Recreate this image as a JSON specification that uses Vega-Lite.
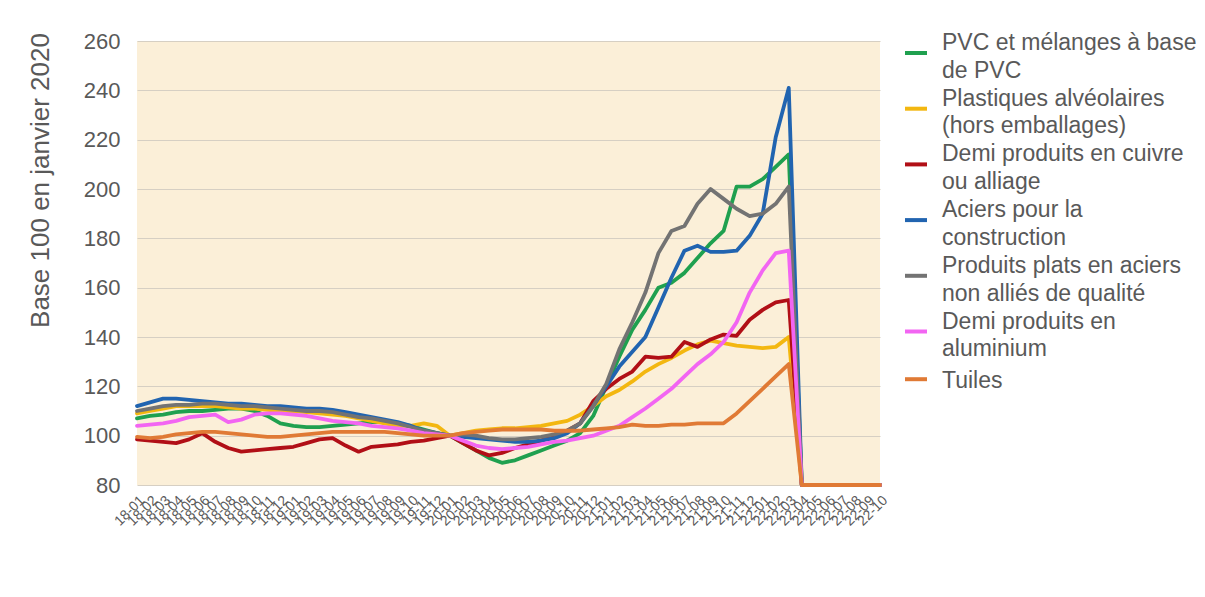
{
  "$schema": "https://vega.github.io/schema/vega-lite/v6.json",
  "description": "Indices de prix de matériaux de construction, base 100 en janvier 2020",
  "width": 743,
  "height": 444,
  "autosize": {"type": "none"},
  "padding": {"left": 137, "top": 41, "right": 325, "bottom": 112},
  "background": "white",
  "config": {
    "font": "Liberation Sans",
    "view": {"fill": "#fbefd8", "stroke": null},
    "style": {"guide-label": {"lineHeight": 27.8}}
  },
  "data": {
    "values": [
      {"mois": "2018-01", "pvc": 107, "plast": 109, "cuivre": 98.5, "acier": 112, "plats": 110, "alu": 104, "tuiles": 99.5},
      {"mois": "2018-02", "pvc": 108, "plast": 110, "cuivre": 98, "acier": 113.5, "plats": 111, "alu": 104.5, "tuiles": 99},
      {"mois": "2018-03", "pvc": 108.5, "plast": 111, "cuivre": 97.5, "acier": 115, "plats": 112, "alu": 105, "tuiles": 99.5},
      {"mois": "2018-04", "pvc": 109.5, "plast": 112, "cuivre": 97, "acier": 115, "plats": 112.5, "alu": 106, "tuiles": 100.5},
      {"mois": "2018-05", "pvc": 110, "plast": 112, "cuivre": 98.5, "acier": 114.5, "plats": 112.5, "alu": 107.5, "tuiles": 101},
      {"mois": "2018-06", "pvc": 110, "plast": 112, "cuivre": 101, "acier": 114, "plats": 113, "alu": 108, "tuiles": 101.5},
      {"mois": "2018-07", "pvc": 110.5, "plast": 112, "cuivre": 97.5, "acier": 113.5, "plats": 113, "alu": 108.5, "tuiles": 101.5},
      {"mois": "2018-08", "pvc": 111, "plast": 111.5, "cuivre": 95, "acier": 113, "plats": 112.5, "alu": 105.5, "tuiles": 101},
      {"mois": "2018-09", "pvc": 111, "plast": 111, "cuivre": 93.5, "acier": 113, "plats": 112, "alu": 106.5, "tuiles": 100.5},
      {"mois": "2018-10", "pvc": 110, "plast": 111, "cuivre": 94, "acier": 112.5, "plats": 112, "alu": 108.5, "tuiles": 100},
      {"mois": "2018-11", "pvc": 108, "plast": 110.5, "cuivre": 94.5, "acier": 112, "plats": 111.5, "alu": 109, "tuiles": 99.5},
      {"mois": "2018-12", "pvc": 105, "plast": 110, "cuivre": 95, "acier": 112, "plats": 111, "alu": 109, "tuiles": 99.5},
      {"mois": "2019-01", "pvc": 104, "plast": 110, "cuivre": 95.5, "acier": 111.5, "plats": 110.5, "alu": 108.5, "tuiles": 100},
      {"mois": "2019-02", "pvc": 103.5, "plast": 109.5, "cuivre": 97, "acier": 111, "plats": 110, "alu": 108, "tuiles": 100.5},
      {"mois": "2019-03", "pvc": 103.5, "plast": 109, "cuivre": 98.5, "acier": 111, "plats": 110, "alu": 107, "tuiles": 101},
      {"mois": "2019-04", "pvc": 104, "plast": 108.5, "cuivre": 99, "acier": 110.5, "plats": 109.5, "alu": 106, "tuiles": 101.5},
      {"mois": "2019-05", "pvc": 104.5, "plast": 108, "cuivre": 96, "acier": 109.5, "plats": 108.5, "alu": 105.5, "tuiles": 101.5},
      {"mois": "2019-06", "pvc": 105, "plast": 107, "cuivre": 93.5, "acier": 108.5, "plats": 107.5, "alu": 105, "tuiles": 101.5},
      {"mois": "2019-07", "pvc": 105.5, "plast": 106, "cuivre": 95.5, "acier": 107.5, "plats": 107, "alu": 104, "tuiles": 101.5},
      {"mois": "2019-08", "pvc": 105.5, "plast": 105, "cuivre": 96, "acier": 106.5, "plats": 106, "alu": 103.5, "tuiles": 101.5},
      {"mois": "2019-09", "pvc": 105, "plast": 104, "cuivre": 96.5, "acier": 105.5, "plats": 105, "alu": 103, "tuiles": 101},
      {"mois": "2019-10", "pvc": 104, "plast": 104, "cuivre": 97.5, "acier": 104, "plats": 103.5, "alu": 102, "tuiles": 100.5},
      {"mois": "2019-11", "pvc": 102.5, "plast": 105, "cuivre": 98, "acier": 102, "plats": 102, "alu": 101, "tuiles": 100},
      {"mois": "2019-12", "pvc": 101, "plast": 104, "cuivre": 99, "acier": 101, "plats": 101, "alu": 100.5, "tuiles": 100},
      {"mois": "2020-01", "pvc": 100, "plast": 100, "cuivre": 100, "acier": 100, "plats": 100, "alu": 100, "tuiles": 100},
      {"mois": "2020-02", "pvc": 97, "plast": 101, "cuivre": 97, "acier": 99.5, "plats": 100.5, "alu": 98, "tuiles": 101},
      {"mois": "2020-03", "pvc": 94, "plast": 102, "cuivre": 94, "acier": 99, "plats": 100, "alu": 96, "tuiles": 101.5},
      {"mois": "2020-04", "pvc": 91, "plast": 102.5, "cuivre": 92, "acier": 98.5, "plats": 99, "alu": 95, "tuiles": 102},
      {"mois": "2020-05", "pvc": 89, "plast": 103, "cuivre": 93, "acier": 98, "plats": 98.5, "alu": 94.5, "tuiles": 102.5},
      {"mois": "2020-06", "pvc": 90, "plast": 103, "cuivre": 95, "acier": 97.5, "plats": 98.5, "alu": 95, "tuiles": 102.5},
      {"mois": "2020-07", "pvc": 92, "plast": 103.5, "cuivre": 96.5, "acier": 97.5, "plats": 99, "alu": 95.5, "tuiles": 102.5},
      {"mois": "2020-08", "pvc": 94, "plast": 104, "cuivre": 98, "acier": 98, "plats": 99.5, "alu": 96.5, "tuiles": 102.5},
      {"mois": "2020-09", "pvc": 96, "plast": 105, "cuivre": 100, "acier": 99, "plats": 100.5, "alu": 97.5, "tuiles": 102},
      {"mois": "2020-10", "pvc": 98, "plast": 106, "cuivre": 102, "acier": 101, "plats": 102, "alu": 98, "tuiles": 102},
      {"mois": "2020-11", "pvc": 101, "plast": 108.5, "cuivre": 105, "acier": 105, "plats": 105, "alu": 99, "tuiles": 102},
      {"mois": "2020-12", "pvc": 108, "plast": 112, "cuivre": 114, "acier": 112, "plats": 112, "alu": 100, "tuiles": 102.5},
      {"mois": "2021-01", "pvc": 120, "plast": 116, "cuivre": 119, "acier": 120, "plats": 121, "alu": 102, "tuiles": 103},
      {"mois": "2021-02", "pvc": 132, "plast": 118.5, "cuivre": 123, "acier": 128, "plats": 135, "alu": 104, "tuiles": 103.5},
      {"mois": "2021-03", "pvc": 143, "plast": 122, "cuivre": 126, "acier": 134, "plats": 146, "alu": 107.5, "tuiles": 104.5},
      {"mois": "2021-04", "pvc": 151, "plast": 126, "cuivre": 132, "acier": 140, "plats": 158, "alu": 111, "tuiles": 104},
      {"mois": "2021-05", "pvc": 160, "plast": 129, "cuivre": 131.5, "acier": 152, "plats": 174, "alu": 115, "tuiles": 104},
      {"mois": "2021-06", "pvc": 162, "plast": 131.5, "cuivre": 132, "acier": 164, "plats": 183, "alu": 119, "tuiles": 104.5},
      {"mois": "2021-07", "pvc": 166, "plast": 134.5, "cuivre": 138, "acier": 175, "plats": 185, "alu": 124, "tuiles": 104.5},
      {"mois": "2021-08", "pvc": 172, "plast": 137, "cuivre": 136, "acier": 177, "plats": 194, "alu": 129, "tuiles": 105},
      {"mois": "2021-09", "pvc": 178, "plast": 138.5, "cuivre": 139, "acier": 174.5, "plats": 200, "alu": 133, "tuiles": 105},
      {"mois": "2021-10", "pvc": 183, "plast": 137.5, "cuivre": 141, "acier": 174.5, "plats": 196, "alu": 138, "tuiles": 105},
      {"mois": "2021-11", "pvc": 201, "plast": 136.5, "cuivre": 140.5, "acier": 175, "plats": 192, "alu": 146, "tuiles": 109},
      {"mois": "2021-12", "pvc": 201, "plast": 136, "cuivre": 147, "acier": 181, "plats": 189, "alu": 158, "tuiles": 114},
      {"mois": "2022-01", "pvc": 204, "plast": 135.5, "cuivre": 151, "acier": 190, "plats": 190, "alu": 167, "tuiles": 119},
      {"mois": "2022-02", "pvc": 209, "plast": 136, "cuivre": 154, "acier": 221, "plats": 194, "alu": 174, "tuiles": 124},
      {"mois": "2022-03", "pvc": 214, "plast": 140, "cuivre": 155, "acier": 241, "plats": 201, "alu": 175, "tuiles": 129},
      {"mois": "2022-04", "pvc": 80, "plast": 80, "cuivre": 80, "acier": 80, "plats": 80, "alu": 80, "tuiles": 80},
      {"mois": "2022-05", "pvc": 80, "plast": 80, "cuivre": 80, "acier": 80, "plats": 80, "alu": 80, "tuiles": 80},
      {"mois": "2022-06", "pvc": 80, "plast": 80, "cuivre": 80, "acier": 80, "plats": 80, "alu": 80, "tuiles": 80},
      {"mois": "2022-07", "pvc": 80, "plast": 80, "cuivre": 80, "acier": 80, "plats": 80, "alu": 80, "tuiles": 80},
      {"mois": "2022-08", "pvc": 80, "plast": 80, "cuivre": 80, "acier": 80, "plats": 80, "alu": 80, "tuiles": 80},
      {"mois": "2022-09", "pvc": 80, "plast": 80, "cuivre": 80, "acier": 80, "plats": 80, "alu": 80, "tuiles": 80},
      {"mois": "2022-10", "pvc": 80, "plast": 80, "cuivre": 80, "acier": 80, "plats": 80, "alu": 80, "tuiles": 80}
    ]
  },
  "transform": [
    {"fold": ["pvc", "plast", "cuivre", "acier", "plats", "alu", "tuiles"], "as": ["serie", "valeur"]}
  ],
  "mark": {"type": "line", "strokeWidth": 3.8, "strokeJoin": "round", "strokeCap": "round"},
  "encoding": {
    "x": {
      "field": "mois",
      "type": "ordinal",
      "scale": {"type": "point", "padding": 0},
      "axis": {
        "title": null,
        "labelExpr": "slice(datum.label, 2)",
        "labelAngle": -45,
        "labelFontSize": 14,
        "labelColor": "#595959",
        "labelOverlap": false,
        "labelPadding": 8,
        "ticks": false,
        "domain": false,
        "grid": false
      }
    },
    "y": {
      "field": "valeur",
      "type": "quantitative",
      "scale": {"domain": [80, 260], "nice": false, "zero": false},
      "axis": {
        "values": [80, 100, 120, 140, 160, 180, 200, 220, 240, 260],
        "title": "Base 100 en janvier 2020",
        "titleFontSize": 26,
        "titleFontWeight": "normal",
        "titleColor": "#595959",
        "titleAngle": -90,
        "titleBaseline": "middle",
        "titleX": -97,
        "titleY": 139,
        "labelFontSize": 22,
        "labelColor": "#595959",
        "labelPadding": 17,
        "ticks": false,
        "domain": false,
        "gridColor": "#d6cfc3",
        "gridWidth": 1.2
      }
    },
    "color": {
      "field": "serie",
      "type": "nominal",
      "scale": {
        "domain": ["pvc", "plast", "cuivre", "acier", "plats", "alu", "tuiles"],
        "range": ["#1fa04f", "#f3b710", "#b10f16", "#2164b0", "#737373", "#f265f2", "#e07a35"]
      },
      "legend": {
        "title": null,
        "orient": "none",
        "legendX": 766,
        "legendY": -1,
        "padding": 0,
        "symbolType": "stroke",
        "symbolSize": 484,
        "symbolStrokeWidth": 4,
        "labelOffset": 13,
        "labelFontSize": 23,
        "labelColor": "#595959",
        "labelLimit": 300,
        "labelBaseline": "middle",
        "rowPadding": 4.7,
        "labelExpr": "datum.label == 'pvc' ? ['PVC et mélanges à base', 'de PVC'] : datum.label == 'plast' ? ['Plastiques alvéolaires', '(hors emballages)'] : datum.label == 'cuivre' ? ['Demi produits en cuivre', 'ou alliage'] : datum.label == 'acier' ? ['Aciers pour la', 'construction'] : datum.label == 'plats' ? ['Produits plats en aciers', 'non alliés de qualité'] : datum.label == 'alu' ? ['Demi produits en', 'aluminium'] : 'Tuiles'",
        "encode": {
          "labels": {
            "update": {"dy": {"signal": "datum.value == 'tuiles' ? 2 : -10"}}
          }
        }
      }
    }
  }
}
